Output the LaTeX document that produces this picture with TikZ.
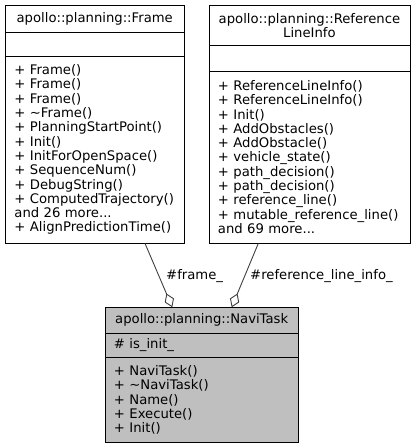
\documentclass[tikz,border=0pt]{standalone}
\usepackage{fontspec}
\setmainfont{DejaVu Sans}
\usetikzlibrary{arrows.meta,calc}
\definecolor{edgegray}{RGB}{64,64,64}
\definecolor{navifill}{RGB}{191,191,191}
\begin{document}
\begin{tikzpicture}[x=1pt,y=-1pt,
  every node/.style={font=\fontsize{13.2}{14.3}\selectfont},
  comp/.style={draw=black,line width=0.9pt,rectangle,anchor=north west,inner ysep=0pt,inner xsep=9pt},
  ttl/.style={comp,align=center},
  memb/.style={comp,align=left},
  edgeline/.style={draw=edgegray,line width=0.9pt,{Diamond[open,length=15pt,width=10pt,fill=white]}-},
  elabel/.style={anchor=base west,inner sep=0pt}]
\useasboundingbox (0,0) rectangle (415,448);
% Frame
\node[ttl,minimum width=178.5pt,minimum height=27pt] (frameT) at (5,5) {apollo::planning::Frame};
\node[memb,minimum width=178.5pt,minimum height=24pt] (frameA) at (5,32) {};
\node[memb,text width=160.5pt,minimum width=178.5pt,minimum height=186.5pt] (frameM) at (5,56) {+ Frame()\\+ Frame()\\+ Frame()\\+ \textasciitilde Frame()\\+ PlanningStartPoint()\\+ Init()\\+ InitForOpenSpace()\\+ SequenceNum()\\+ DebugString()\\+ ComputedTrajectory()\\and 26 more...\\+ AlignPredictionTime()};
% ReferenceLineInfo
\node[ttl,minimum width=201pt,minimum height=40pt] (refT) at (208.5,5) {apollo::planning::Reference\\LineInfo};
\node[memb,minimum width=201pt,minimum height=25.7pt] (refA) at (208.5,45) {};
\node[memb,text width=183pt,minimum width=201pt,minimum height=171.8pt] (refM) at (208.5,70.7) {+ ReferenceLineInfo()\\+ ReferenceLineInfo()\\+ Init()\\+ AddObstacles()\\+ AddObstacle()\\+ vehicle\_state()\\+ path\_decision()\\+ path\_decision()\\+ reference\_line()\\+ mutable\_reference\_line()\\and 69 more...};
% NaviTask
\node[ttl,fill=navifill,minimum width=193.5pt,minimum height=25.2pt] (naviT) at (104.5,307.3) {apollo::planning::NaviTask};
\node[memb,fill=navifill,text width=175.5pt,minimum width=193.5pt,minimum height=24.8pt] (naviA) at (104.5,332.5) {\# is\_init\_};
\node[memb,fill=navifill,text width=175.5pt,minimum width=193.5pt,minimum height=84.4pt] (naviM) at (104.5,357.3) {+ NaviTask()\\+ \textasciitilde NaviTask()\\+ Name()\\+ Execute()\\+ Init()};
% connectors
\coordinate (frameEnd) at ($(frameM.south west)+(140,0)$);
\coordinate (refEnd) at ($(refM.south west)+(49.8,0)$);
\coordinate (naviF) at ($(naviT.north west)+(67.8,0)$);
\coordinate (naviR) at ($(naviT.north west)+(127.2,0)$);
\draw[edgeline] (naviF) -- (frameEnd);
\draw[edgeline] (naviR) -- (refEnd);
\node[elabel] (lblF) at (166,279) {\#frame\_};
\node[elabel] (lblR) at (250,279) {\#reference\_line\_info\_};
\end{tikzpicture}
\end{document}
